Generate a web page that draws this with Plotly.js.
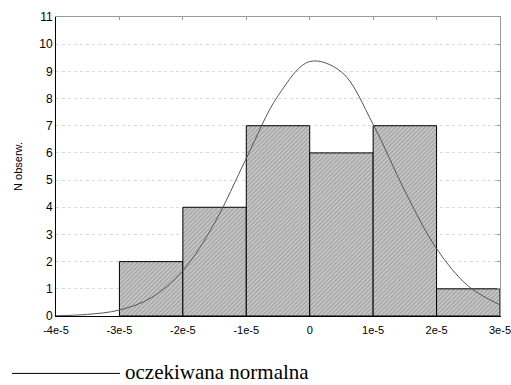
<!DOCTYPE html>
<html><head><meta charset="utf-8">
<script src="https://cdn.plot.ly/plotly-3.0.1.min.js"></script>
<style>html,body{margin:0;padding:0;background:#fff}</style>
</head><body><div id="chart" style="width:511px;height:385px"></div>
<script>
// histogram bins (centres) and observed counts
const binCenters = [-2.5e-5, -1.5e-5, -0.5e-5, 0.5e-5, 1.5e-5, 2.5e-5];
const counts = [2, 4, 7, 6, 7, 1];
const binWidth = 1e-5;
// expected normal curve
const curveX = [-4e-5, -3.5e-5, -3e-5, -2.5e-5, -2e-5, -1.5e-5, -1e-5, -0.5e-5, 0, 0.5e-5, 1e-5, 1.5e-5, 2e-5, 2.5e-5, 3e-5];
const curveY = [0.01, 0.06, 0.22, 0.67, 1.67, 3.42, 5.8, 8.1, 9.36, 8.98, 7.05, 4.6, 2.48, 1.1, 0.41];
const tickVals = [-4e-5, -3e-5, -2e-5, -1e-5, 0, 1e-5, 2e-5, 3e-5];
const tickText = ['-4e-5', '-3e-5', '-2e-5', '-1e-5', '0', '1e-5', '2e-5', '3e-5'];
const yTicks = [0,1,2,3,4,5,6,7,8,9,10,11];
const legendLabel = 'oczekiwana normalna';

const xr = [-4e-5, 3e-5];
const traces = [
  {type:'bar', x:binCenters, y:counts, width:binWidth, showlegend:false,
   marker:{color:'#c0c0c0', line:{color:'#000', width:1},
     pattern:{shape:'/', fgcolor:'#9a9a9a', bgcolor:'#c8c8c8', size:3, solidity:0.35}}},
  {type:'scatter', mode:'lines', x:curveX, y:curveY, name:legendLabel, showlegend:false,
   line:{color:'#555', width:1, shape:'spline', smoothing:1}}
];
const layout = {
  width:511, height:385,
  margin:{l:56, r:11, t:17, b:69},
  paper_bgcolor:'#fff', plot_bgcolor:'#fff',
  bargap:0,
  font:{family:'Liberation Sans', size:11, color:'#000'},
  xaxis:{range:xr, tickvals:tickVals, ticktext:tickText, showgrid:false, zeroline:false,
    showline:true, linecolor:'#000', linewidth:1, ticks:'', tickfont:{size:11}, ticklabelstandoff:4,
    ticklabeloverflow:'allow'},
  xaxis2:{overlaying:'x', side:'top', range:xr, tickvals:tickVals, showticklabels:false,
    showgrid:false, zeroline:false, showline:true, linecolor:'#999', ticks:'inside', ticklen:3, tickcolor:'#999'},
  yaxis:{range:[0, 11], tickvals:yTicks, showgrid:true, gridcolor:'#dadada', griddash:'dot', zeroline:false,
    showline:true, linecolor:'#000', linewidth:1, ticks:'', tickfont:{size:12},
    title:{text:'N obserw.', font:{size:11}, standoff:14}},
  yaxis2:{overlaying:'y', side:'right', range:[0, 11], tickvals:yTicks, showticklabels:false,
    showgrid:false, zeroline:false, showline:true, linecolor:'#999', ticks:'inside', ticklen:3, tickcolor:'#999'},
  shapes:[{type:'line', xref:'paper', yref:'paper', x0:-0.099, x1:0.144, y0:-0.192, y1:-0.192,
    line:{color:'#000', width:1}}],
  annotations:[{xref:'paper', yref:'paper', x:0.150, y:-0.187, xanchor:'left', yanchor:'middle', showarrow:false,
    text:legendLabel, font:{family:'Liberation Serif', size:21, color:'#000'}}]
};
traces.push({type:'scatter', x:[null], y:[null], xaxis:'x2', yaxis:'y2', showlegend:false, hoverinfo:'skip'});
Plotly.newPlot('chart', traces, layout, {displayModeBar:false, staticPlot:true});
</script></body></html>
